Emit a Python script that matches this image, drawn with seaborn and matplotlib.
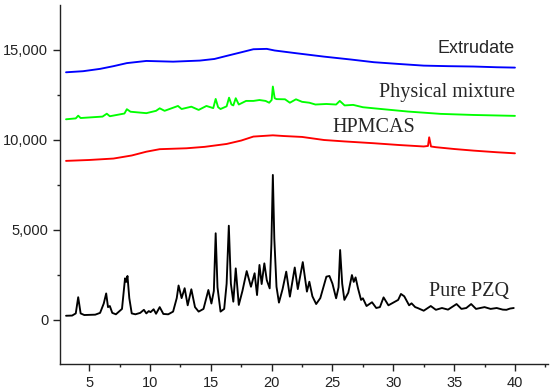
import pandas as pd
import matplotlib
matplotlib.use('Agg')
import matplotlib.pyplot as plt
from matplotlib.ticker import MultipleLocator, StrMethodFormatter
import seaborn as sns

# Patrones DRX (2-theta vs intensidad)
pzq_x = [3.1, 3.6, 3.9, 4.1, 4.3, 4.6, 5.5, 5.9, 6.2, 6.4,
         6.55, 6.7, 6.9, 7.2, 7.7, 7.95, 8.05, 8.15, 8.3, 8.5,
         8.8, 9.2, 9.5, 9.7, 9.9, 10.05, 10.3, 10.5, 10.8, 11.1,
         11.5, 11.9, 12.2, 12.35, 12.6, 12.85, 13.1, 13.4, 13.7, 14.0,
         14.4, 14.8, 15.05, 15.25, 15.4, 15.55, 15.8, 16.1, 16.3, 16.48,
         16.65, 16.85, 17.05, 17.3, 17.6, 17.95, 18.3, 18.6, 18.8, 19.0,
         19.18, 19.4, 19.6, 19.84, 19.98, 20.1, 20.22, 20.4, 20.6, 20.9,
         21.2, 21.5, 21.9, 22.15, 22.56, 22.9, 23.1, 23.35, 23.66, 24.0,
         24.5, 24.75, 25.0, 25.3, 25.5, 25.63, 25.8, 25.98, 26.3, 26.6,
         26.75, 26.9, 27.1, 27.35, 27.5, 27.8, 28.25, 28.6, 28.9, 29.2,
         29.6, 30.0, 30.4, 30.63, 30.9, 31.3, 31.5, 31.8, 32.0, 32.5,
         33.08, 33.5, 34.0, 34.5, 35.2, 35.6, 36.0, 36.4, 36.8, 37.5,
         38.0, 38.5, 39.0, 39.3, 39.6, 39.9]
pzq_y = [220, 230, 350, 1250, 350, 260, 280, 380, 900, 1460,
         700, 760, 380, 300, 600, 2300, 2100, 2430, 1200, 350,
         300, 380, 550, 350, 480, 420, 580, 330, 700, 320,
         300, 450, 1200, 1900, 1200, 1750, 800, 1690, 700, 450,
         600, 1650, 900, 1600, 4800, 1800, 450, 600, 2000, 5220,
         2000, 1000, 2850, 820, 1600, 2700, 1830, 2580, 1370, 3040,
         1980, 3130, 2200, 1740, 4200, 8040, 4500, 1830, 950, 1700,
         2670, 1280, 2900, 1700, 3200, 1560, 2110, 1300, 870, 1200,
         2390, 2430, 2000, 1190, 1800, 3870, 2000, 1100, 1500, 2480,
         2100, 2350, 1740, 1100, 1190, 760, 970, 650, 700, 1240,
         800, 950, 1100, 1430, 1300, 800, 910, 700, 650, 500,
         760, 550, 650, 560, 870, 600, 650, 870, 600, 700,
         600, 650, 560, 550, 620, 650]

hpmcas_x = [3.1, 5.0, 7.0, 8.5, 9.7, 10.8, 13.0, 14.5, 16.3, 17.5, 18.5, 20.1,
            21.0, 22.5, 24.3, 26.0, 28.4, 30.5, 32.5, 32.85, 32.95, 33.1, 33.5,
            35.0, 36.6, 38.5, 40.0]
hpmcas_y = [8820, 8870, 8950, 9120, 9330, 9470, 9520, 9600, 9760, 9950, 10170, 10240,
            10200, 10150, 9980, 9900, 9800, 9700, 9620, 9650, 10130, 9620, 9580,
            9480, 9390, 9300, 9240]

mezcla_x = [3.1, 3.9, 4.1, 4.3, 6.1, 6.45, 6.7, 7.9, 8.1, 8.4,
            9.7, 10.5, 10.8, 11.2, 12.3, 12.6, 13.4, 14.0, 14.64, 15.2,
            15.4, 15.6, 15.8, 16.3, 16.5, 16.7, 16.85, 17.05, 17.3, 17.9,
            18.5, 19.0, 19.5, 19.8, 20.0, 20.1, 20.25, 20.4, 21.1, 21.5,
            22.0, 22.5, 23.1, 23.6, 24.5, 25.3, 25.6, 26.0, 26.7, 27.5,
            28.4, 31.2, 33.9, 36.6, 40.0]
mezcla_y = [11130, 11180, 11330, 11200, 11280, 11440, 11300, 11450, 11690, 11550,
            11470, 11600, 11740, 11600, 11870, 11700, 11830, 11650, 11870, 11750,
            12260, 11800, 11700, 11850, 12330, 11950, 11900, 12300, 11950, 12150,
            12150, 12200, 12150, 12050, 12200, 12950, 12300, 12250, 12240, 12050,
            12240, 12100, 12050, 11950, 11980, 11950, 12150, 11900, 11930, 11800,
            11740, 11560, 11430, 11370, 11320]

extrudado_x = [3.1, 4.5, 5.9, 7.0, 8.1, 9.7, 11.9, 14.1, 15.3, 16.3, 17.5, 18.5,
               19.6, 20.25, 22.0, 24.3, 26.5, 28.4, 30.5, 32.5, 34.5, 36.6, 38.5, 40.0]
extrudado_y = [13740, 13800, 13930, 14080, 14250, 14370, 14330, 14390, 14480, 14650, 14850, 15020,
               15040, 14950, 14800, 14610, 14450, 14300, 14200, 14110, 14080, 14060, 14020, 14000]

muestras = ['Pure PZQ', 'HPMCAS', 'Physical mixture', 'Extrudate']
colores = {'Pure PZQ': 'black', 'HPMCAS': '#ff0000',
           'Physical mixture': '#00ff00', 'Extrudate': '#0000ff'}

df = pd.concat([
    pd.DataFrame({'theta': pzq_x, 'intensidad': pzq_y, 'muestra': 'Pure PZQ'}),
    pd.DataFrame({'theta': hpmcas_x, 'intensidad': hpmcas_y, 'muestra': 'HPMCAS'}),
    pd.DataFrame({'theta': mezcla_x, 'intensidad': mezcla_y, 'muestra': 'Physical mixture'}),
    pd.DataFrame({'theta': extrudado_x, 'intensidad': extrudado_y, 'muestra': 'Extrudate'}),
], ignore_index=True)

sns.set_style('ticks')
plt.rcParams['font.family'] = ['Liberation Sans', 'DejaVu Sans']

fig = plt.figure(figsize=(5.5, 3.92), dpi=100)
ax = fig.add_axes([0.109, 0.0714, 0.887, 0.916])

sns.lineplot(data=df, x='theta', y='intensidad', hue='muestra', hue_order=muestras,
             palette=colores, estimator=None, sort=False, legend=False,
             linewidth=1.35, ax=ax)

ax.set_xlim(2.6, 42.7)
ax.set_ylim(-2460, 17480)
ax.set_xlabel('')
ax.set_ylabel('')
ax.xaxis.set_major_locator(MultipleLocator(5))
ax.xaxis.set_minor_locator(MultipleLocator(2.5))
ax.yaxis.set_major_locator(MultipleLocator(5000))
ax.yaxis.set_minor_locator(MultipleLocator(2500))
ax.yaxis.set_major_formatter(StrMethodFormatter('{x:,.0f}'))
ax.tick_params(which='major', length=5, width=1, labelsize=10.5, colors='#222222')
ax.tick_params(which='minor', length=2.5, width=1, colors='#222222')
sns.despine(ax=ax)
for s in ['left', 'bottom']:
    ax.spines[s].set_color('#222222')
    ax.spines[s].set_linewidth(1)

# etiquetas de cada curva
ax.text(40, 15040, 'Extrudate', ha='right', va='center', fontsize=13,
        family='Liberation Sans')
ax.text(40, 12600, 'Physical mixture', ha='right', va='center', fontsize=14.5,
        family='Liberation Serif')
ax.text(28.4, 10670, 'HPMCAS', ha='center', va='center', fontsize=14.5,
        family='Liberation Serif')
ax.text(39.5, 1560, 'Pure PZQ', ha='right', va='center', fontsize=14.5,
        family='Liberation Serif')

plt.savefig('out.png', dpi=100)
